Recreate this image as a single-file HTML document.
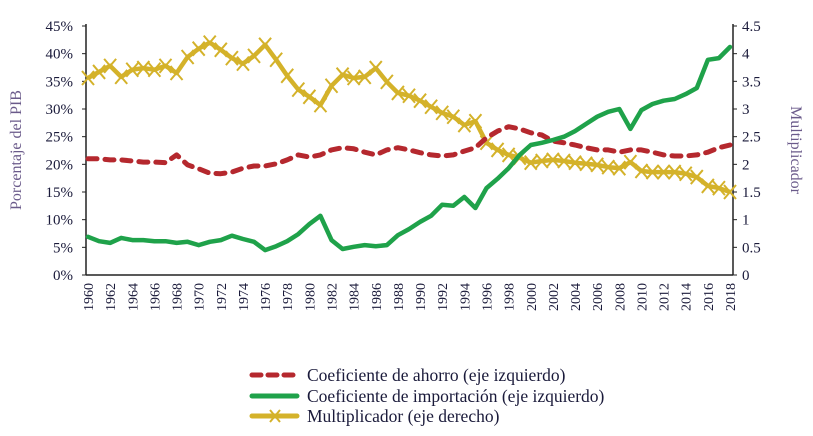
<!DOCTYPE html>
<html><head><meta charset="utf-8"><style>
body{margin:0;background:#fff;}
svg{display:block;font-family:"Liberation Serif",serif;}
</style></head><body>
<svg id="chart" width="813" height="436" viewBox="0 0 813 436" xmlns="http://www.w3.org/2000/svg">
<g id="axes"></g><g id="series"></g>
<g font-size="17.5" fill="#1a1a3a">
<line x1="252" y1="375" x2="296" y2="375" stroke="#b5282e" stroke-width="5" stroke-dasharray="9 7" stroke-linecap="round"/>
<text x="307" y="381">Coeficiente de ahorro (eje izquierdo)</text>
<line x1="252" y1="396" x2="297" y2="396" stroke="#1fa24a" stroke-width="5" stroke-linecap="round"/>
<text x="307" y="402">Coeficiente de importación (eje izquierdo)</text>
<line x1="252" y1="416" x2="297" y2="416" stroke="#d4b22a" stroke-width="5" stroke-linecap="round"/>
<path d="M270 410 L280 422 M280 410 L270 422" stroke="#d4b22a" stroke-width="2"/>
<text x="307" y="422">Multiplicador (eje derecho)</text>
</g>
</svg>
<script>
const years=[];for(let y=1960;y<=2018;y++)years.push(y);
const savings=[21,21,20.8,20.8,20.6,20.4,20.4,20.3,21.7,19.9,19.2,18.4,18.3,18.6,19.3,19.7,19.7,20.1,20.8,21.7,21.3,21.7,22.6,23,22.8,22.2,21.7,22.6,23,22.6,22.1,21.7,21.5,21.7,22.4,23,24.8,26,26.8,26.4,25.7,25.3,24.2,23.9,23.5,23,22.6,22.6,22.2,22.6,22.6,22.2,21.7,21.5,21.5,21.7,22.2,23,23.5];
const imports=[6.9,6.1,5.8,6.7,6.3,6.3,6.1,6.1,5.8,6,5.4,6,6.3,7.1,6.5,6,4.5,5.2,6.1,7.4,9.2,10.7,6.3,4.7,5.1,5.4,5.2,5.4,7.2,8.3,9.6,10.7,12.7,12.5,14.1,12.1,15.7,17.4,19.3,21.7,23.5,23.9,24.4,25,26,27.3,28.6,29.5,30,26.4,29.8,30.9,31.5,31.8,32.7,33.8,38.9,39.2,41.2];
const multiplier=[3.56,3.67,3.78,3.58,3.71,3.74,3.71,3.78,3.65,3.94,4.09,4.2,4.07,3.92,3.82,3.96,4.16,3.89,3.6,3.35,3.22,3.07,3.42,3.62,3.56,3.58,3.74,3.49,3.29,3.24,3.15,3.04,2.93,2.86,2.71,2.78,2.39,2.26,2.17,2.12,2.03,2.06,2.08,2.06,2.03,2.01,1.99,1.95,1.93,2.04,1.88,1.86,1.86,1.86,1.83,1.77,1.61,1.57,1.5];
const leftTicks=["0%","5%","10%","15%","20%","25%","30%","35%","40%","45%"];
const rightTicks=["0","0.5","1","1.5","2","2.5","3","3.5","4","4.5"];
const NS="http://www.w3.org/2000/svg";
const X0=88,X1=730,Y0=275,Y1=26;
const xs=y=>X0+(y-1960)*(X1-X0)/58;
const yl=v=>Y0-v*(Y0-Y1)/45;
const yr=v=>Y0-v*(Y0-Y1)/4.5;
function mk(tag,attrs,parent){const e=document.createElementNS(NS,tag);for(const k in attrs)e.setAttribute(k,attrs[k]);parent.appendChild(e);return e;}
const ax=document.getElementById('axes'),se=document.getElementById('series');
let e;
e=mk('line',{x1:86,y1:Y1-2,x2:86,y2:Y0,stroke:'#222','stroke-width':1.5},ax);


e=mk('line',{x1:733,y1:Y1-2,x2:733,y2:Y0,stroke:'#222','stroke-width':1.5},ax);


e=mk('line',{x1:86,y1:Y0,x2:733,y2:Y0,stroke:'#222','stroke-width':1.5},ax);


leftTicks.forEach((t,i)=>{const y=yl(i*5);
 mk('line',{x1:82,y1:y,x2:86,y2:y,stroke:'#222'},ax);
 e=mk('text',{x:73,y:y+5,'text-anchor':'end','font-size':15,fill:'#1a1a3a'},ax);e.textContent=t;
 
 });
rightTicks.forEach((t,i)=>{const y=yr(i*0.5);
 mk('line',{x1:733,y1:y,x2:737,y2:y,stroke:'#222'},ax);
 e=mk('text',{x:742,y:y+5,'font-size':15,fill:'#1a1a3a'},ax);e.textContent=t;
 
 });
years.forEach(y=>{if(y%2)return;const x=xs(y);
 e=mk('text',{x:0,y:0,transform:`translate(${x+5},283) rotate(-90)`,'text-anchor':'end','font-size':14,fill:'#1a1a3a'},ax);e.textContent=y;
 
 });
e=mk('text',{transform:'translate(21,150) rotate(-90)','text-anchor':'middle','font-size':16,fill:'#6a5a8a'},ax);e.textContent='Porcentaje del PIB';


e=mk('text',{transform:'translate(791,150) rotate(90)','text-anchor':'middle','font-size':16,fill:'#6a5a8a'},ax);e.textContent='Multiplicador';


const pts=(arr,f)=>arr.map((v,i)=>xs(years[i]).toFixed(1)+','+f(v).toFixed(1)).join(' ');
e=mk('polyline',{points:pts(multiplier,yr),fill:'none',stroke:'#d4b22a','stroke-width':4.5,'stroke-linejoin':'round'},se);


multiplier.forEach((v,i)=>{const x=xs(years[i]),y=yr(v);
 e=mk('path',{d:`M${x-6} ${y-7} L${x+6} ${y+7} M${x+6} ${y-7} L${x-6} ${y+7}`,stroke:'#d4b22a','stroke-width':2},se);
 
 });
e=mk('polyline',{points:pts(savings,yl),fill:'none',stroke:'#b5282e','stroke-width':5,'stroke-dasharray':'9 8','stroke-linecap':'round','stroke-linejoin':'round'},se);


e=mk('polyline',{points:pts(imports,yl),fill:'none',stroke:'#1fa24a','stroke-width':4.5,'stroke-linejoin':'round','stroke-linecap':'round'},se);


</script>
</body></html>
